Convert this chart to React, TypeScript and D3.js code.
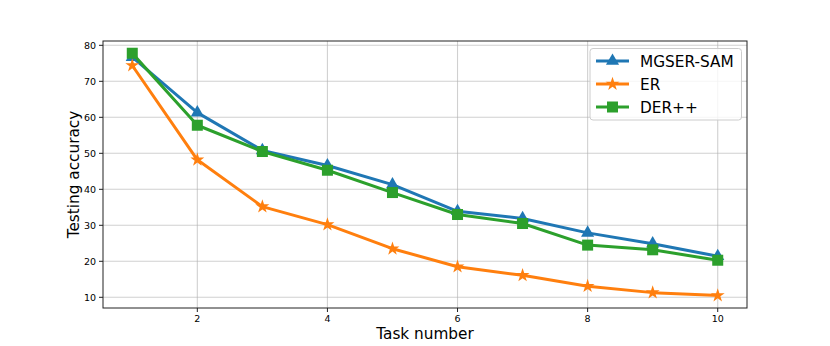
import React from "react";
import * as d3 from "d3";

const tasks = [1, 2, 3, 4, 5, 6, 7, 8, 9, 10];
const mgserSam = [76.7, 61.3, 50.8, 46.6, 41.3, 33.9, 31.9, 27.9, 24.9, 21.4];
const er = [74.4, 48.2, 35.2, 30.2, 23.5, 18.5, 16.1, 13.1, 11.3, 10.5];
const derpp = [77.8, 57.8, 50.5, 45.3, 39.1, 33.0, 30.5, 24.5, 23.2, 20.3];
const xTicks = [2, 4, 6, 8, 10];
const yTicks = [10, 20, 30, 40, 50, 60, 70, 80];

const series = [
  { name: "MGSER-SAM", values: mgserSam, color: "#1f77b4", marker: "triangle" },
  { name: "ER", values: er, color: "#ff7f0e", marker: "star" },
  { name: "DER++", values: derpp, color: "#2ca02c", marker: "square" },
];

const W = 830, H = 346;
const left = 103, right = 747, top = 41, bottom = 308;
const font = "DejaVu Sans, sans-serif";

function Marker({ type, x, y, color }: { type: string; x: number; y: number; color: string }) {
  if (type === "triangle") {
    const p = d3.symbol(d3.symbolTriangle, 75)();
    return <path d={p || ""} transform={`translate(${x},${y})`} fill={color} />;
  }
  if (type === "star") {
    const p = d3.symbol(d3.symbolStar, 60)();
    return <path d={p || ""} transform={`translate(${x},${y})`} fill={color} />;
  }
  return <rect x={x - 5.5} y={y - 5.5} width={11} height={11} fill={color} />;
}

export default function App() {
  const x = d3.scaleLinear().domain([0.55, 10.45]).range([left, right]);
  const y = d3.scaleLinear().domain([7.03, 81.2]).range([bottom, top]);
  const line = d3.line<number>().x((_, i) => x(tasks[i])).y((d) => y(d));

  return (
    <svg width={W} height={H} style={{ position: "absolute", left: 0, top: 0 }}>
      <rect width={W} height={H} fill="#fff" />
      {xTicks.map((t) => (
        <line key={"gx" + t} x1={x(t)} x2={x(t)} y1={top} y2={bottom} stroke="#b0b0b0" strokeOpacity={0.6} strokeWidth={1.1} />
      ))}
      {yTicks.map((t) => (
        <line key={"gy" + t} x1={left} x2={right} y1={y(t)} y2={y(t)} stroke="#b0b0b0" strokeOpacity={0.6} strokeWidth={1.1} />
      ))}
      {series.map((s) => (
        <g key={s.name}>
          <path d={line(s.values) || ""} fill="none" stroke={s.color} strokeWidth={3} strokeLinejoin="round" strokeLinecap="square" />
          {s.values.map((v, i) => (
            <Marker key={i} type={s.marker} x={x(tasks[i])} y={y(v)} color={s.color} />
          ))}
        </g>
      ))}
      <rect x={left} y={top} width={right - left} height={bottom - top} fill="none" stroke="#222" strokeWidth={1} />
      {xTicks.map((t) => (
        <g key={"tx" + t}>
          <line x1={x(t)} x2={x(t)} y1={bottom} y2={bottom + 4} stroke="#222" />
          <text x={x(t)} y={bottom + 14} textAnchor="middle" fontSize={9.5} fontFamily={font}>{t}</text>
        </g>
      ))}
      {yTicks.map((t) => (
        <g key={"ty" + t}>
          <line x1={left - 4} x2={left} y1={y(t)} y2={y(t)} stroke="#222" />
          <text x={left - 7} y={y(t) + 3.5} textAnchor="end" fontSize={9.5} fontFamily={font}>{t}</text>
        </g>
      ))}
      <text x={(left + right) / 2} y={339} textAnchor="middle" fontSize={15.3} fontFamily={font}>Task number</text>
      <text transform={`translate(79,${(top + bottom) / 2}) rotate(-90)`} textAnchor="middle" fontSize={15.3} fontFamily={font}>Testing accuracy</text>
      <g>
        <rect x={590} y={48.5} width={151.5} height={71.5} rx={3} fill="#fff" fillOpacity={0.8} stroke="#ccc" />
        {series.map((s, i) => {
          const ly = 61 + i * 23;
          return (
            <g key={"lg" + s.name}>
              <line x1={596} x2={629} y1={ly} y2={ly} stroke={s.color} strokeWidth={3} />
              <Marker type={s.marker} x={612.5} y={ly} color={s.color} />
              <text x={640} y={ly + 5.5} fontSize={15.3} fontFamily={font}>{s.name}</text>
            </g>
          );
        })}
      </g>
    </svg>
  );
}
